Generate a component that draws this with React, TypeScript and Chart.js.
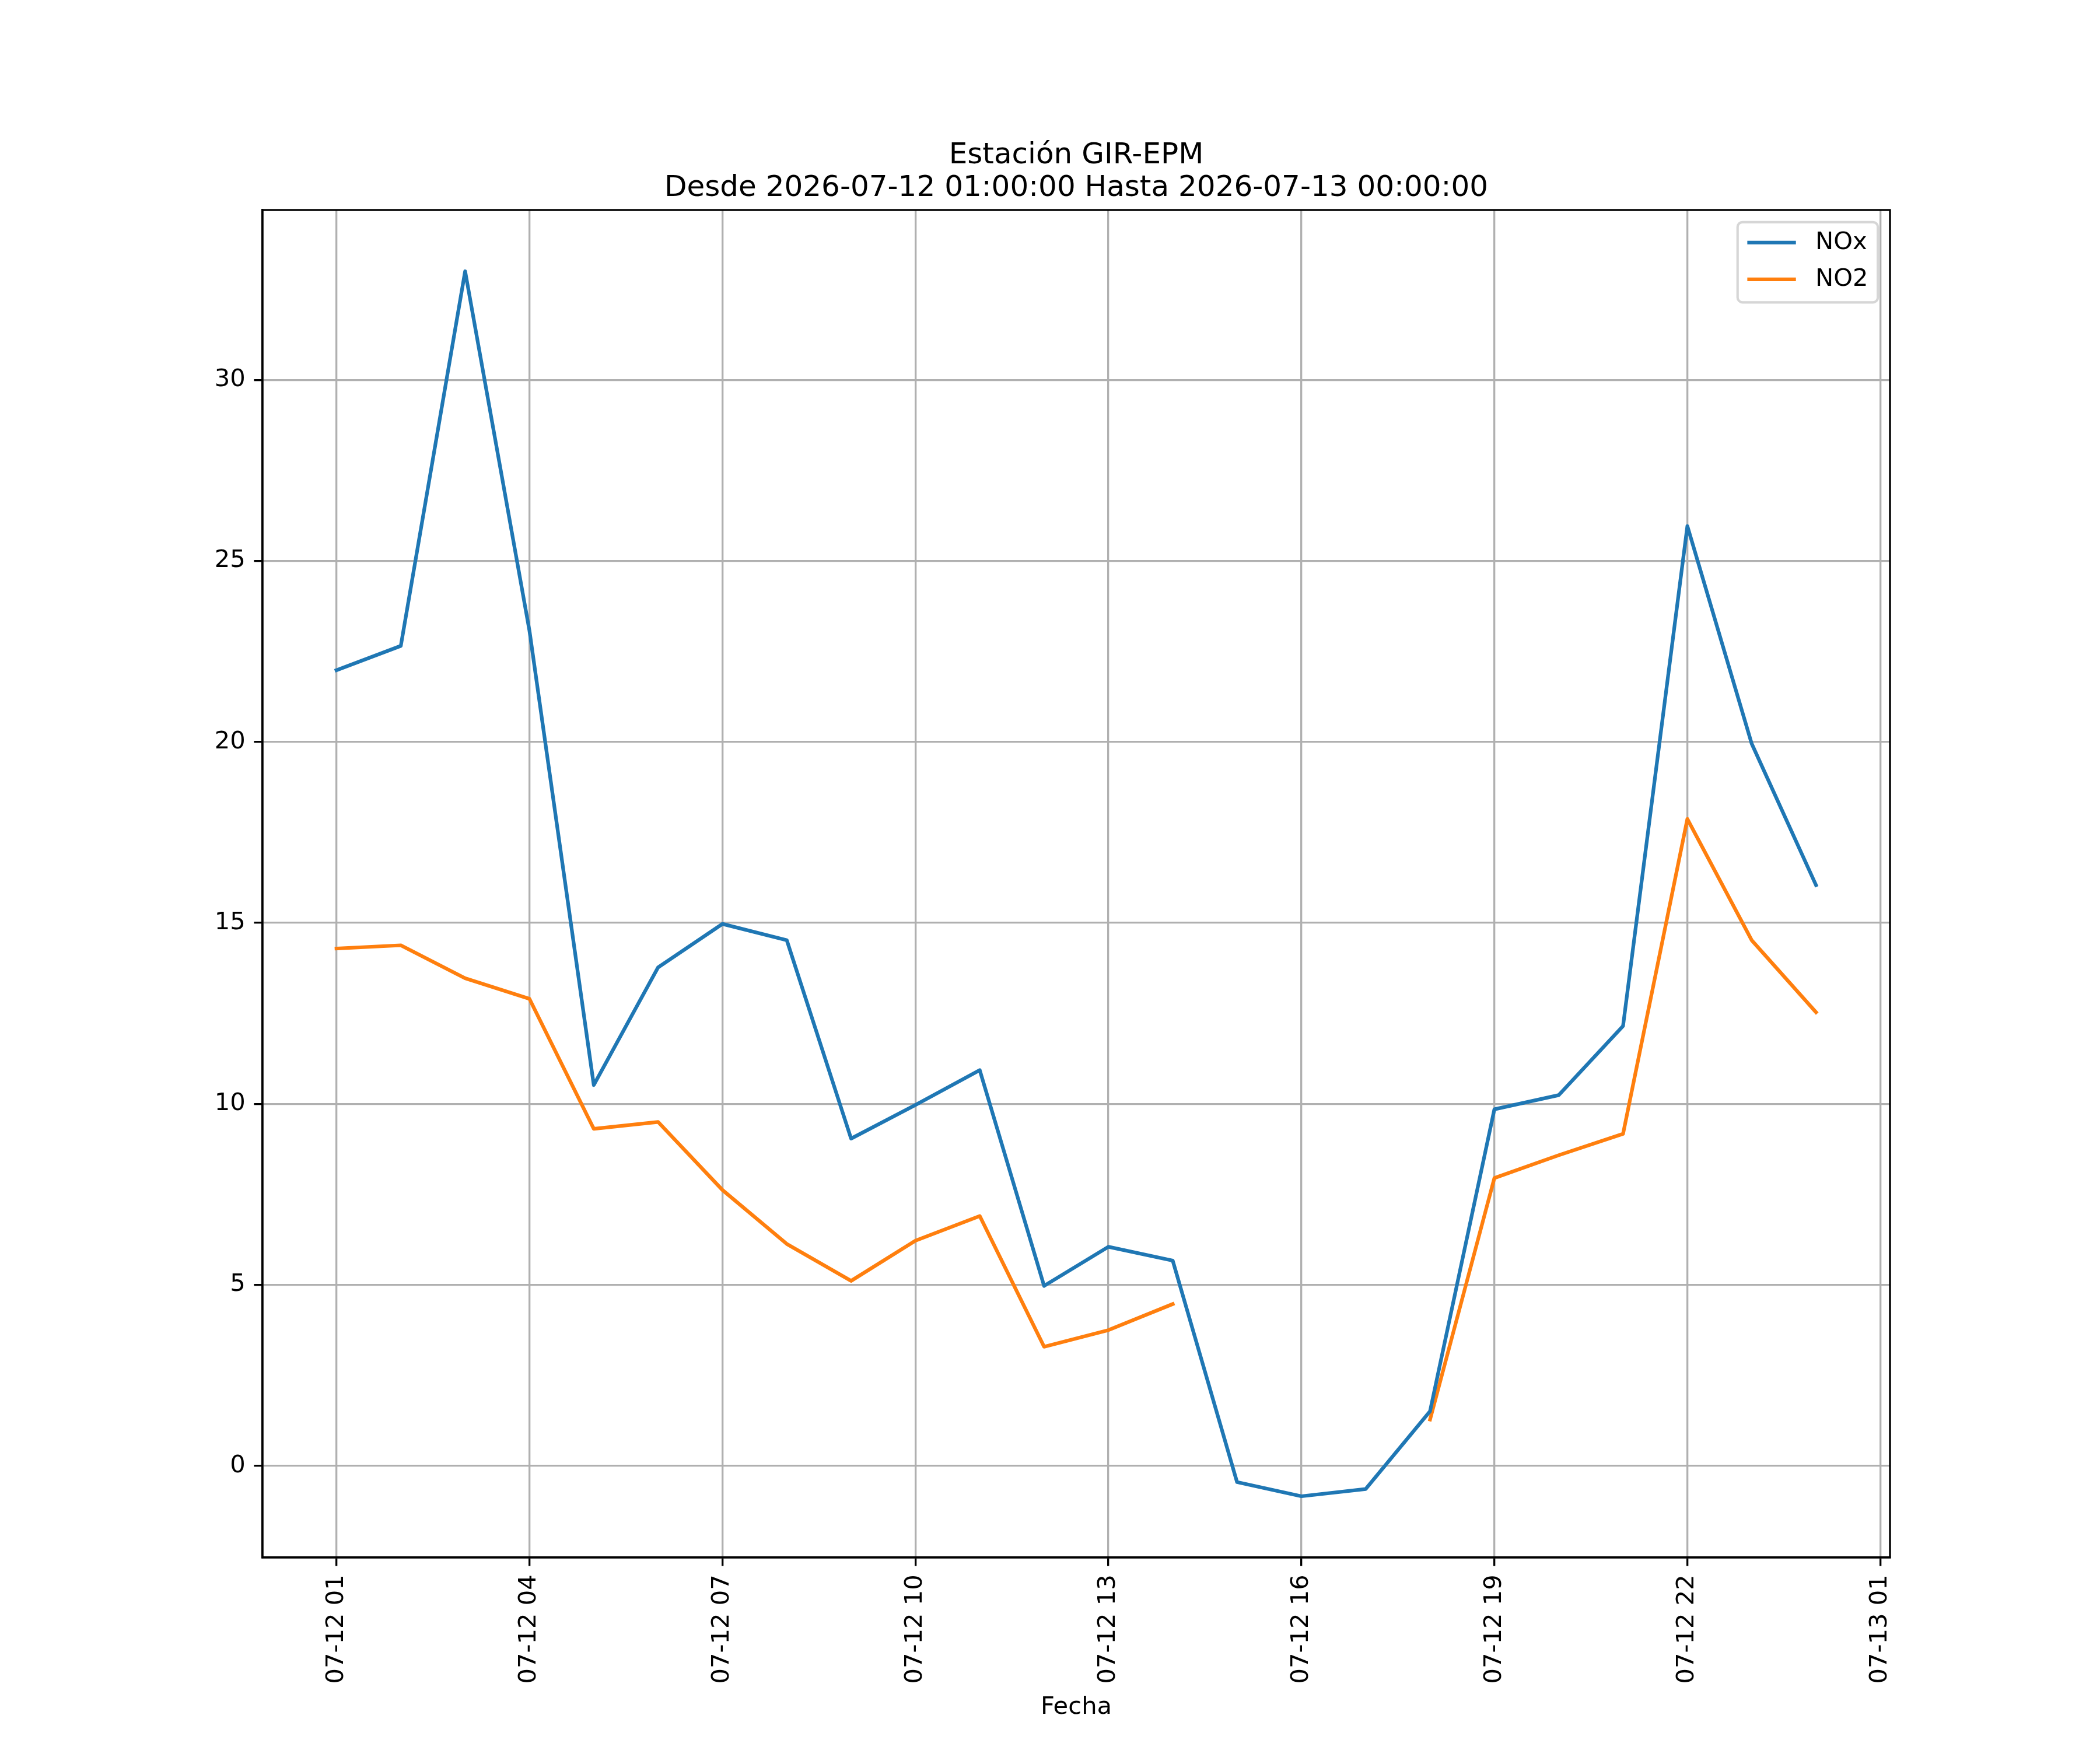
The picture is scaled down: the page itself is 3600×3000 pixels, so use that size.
import React, { useRef, useEffect } from "react";
import { Chart, registerables } from "chart.js";

Chart.register(...registerables);

const hours = [1, 2, 3, 4, 5, 6, 7, 8, 9, 10, 11, 12, 13, 14, 15, 16, 17, 18, 19, 20, 21, 22, 23, 24];
const noxValues = [
  21.98, 22.65, 33.0, 23.07, 10.52, 13.77, 14.97, 14.52, 9.04, 9.97, 10.93, 4.97,
  6.05, 5.67, -0.45, -0.84, -0.64, 1.51, 9.85, 10.24, 12.15, 25.96, 19.95, 16.04,
];
const no2Values = [
  14.29, 14.38, 13.47, 12.9, 9.31, 9.5, 7.62, 6.13, 5.11, 6.22, 6.9, 3.29,
  3.75, 4.47, null, null, null, 1.28, 7.95, 8.58, 9.17, 17.87, 14.52, 12.53,
];
const xTickValues = [1, 4, 7, 10, 13, 16, 19, 22, 25];
const xTickLabels = [
  "07-12 01", "07-12 04", "07-12 07", "07-12 10", "07-12 13",
  "07-12 16", "07-12 19", "07-12 22", "07-13 01",
];
const yTickValues = [0, 5, 10, 15, 20, 25, 30];
const titleLines = ["Estación GIR-EPM", "Desde 2026-07-12 01:00:00 Hasta 2026-07-13 00:00:00"];

const FONT = "'DejaVu Sans', sans-serif";
const PT = 300 / 72;

// matplotlib-style 5% margins
const allY = [...noxValues, ...no2Values].filter((v): v is number => v !== null);
const yMinData = Math.min(...allY);
const yMaxData = Math.max(...allY);
const yPad = (yMaxData - yMinData) * 0.05;
const xPad = (hours[hours.length - 1] - hours[0]) * 0.05;

const framePlugin = {
  id: "frame",
  afterDraw(chart: Chart) {
    const { ctx, chartArea } = chart;
    ctx.save();
    // spines
    ctx.strokeStyle = "#000";
    ctx.lineWidth = 0.8 * PT;
    ctx.strokeRect(chartArea.left, chartArea.top, chartArea.right - chartArea.left, chartArea.bottom - chartArea.top);

    // title
    const cx = (chartArea.left + chartArea.right) / 2;
    ctx.fillStyle = "#000";
    ctx.font = `${12 * PT}px ${FONT}`;
    ctx.textAlign = "center";
    ctx.textBaseline = "alphabetic";
    ctx.fillText(titleLines[0], cx, chartArea.top - 80);
    ctx.fillText(titleLines[1], cx, chartArea.top - 24);

    // legend (upper right)
    const fs = 10 * PT;
    ctx.font = `${fs}px ${FONT}`;
    const labels = chart.data.datasets.map((d) => d.label as string);
    const textW = Math.max(...labels.map((l) => ctx.measureText(l).width));
    const boxRight = chartArea.right - 0.5 * fs;
    const boxTop = chartArea.top + 0.5 * fs;
    const boxW = 0.4 * fs + 2.0 * fs + 0.8 * fs + textW + 0.4 * fs;
    const boxH = 0.4 * fs * 2 + labels.length * fs + (labels.length - 1) * 0.5 * fs;
    const boxLeft = boxRight - boxW;
    ctx.beginPath();
    ctx.roundRect(boxLeft, boxTop, boxW, boxH, 0.2 * fs);
    ctx.fillStyle = "rgba(255,255,255,0.8)";
    ctx.fill();
    ctx.strokeStyle = "#d6d6d6";
    ctx.lineWidth = 1 * PT;
    ctx.stroke();
    chart.data.datasets.forEach((d, i) => {
      const cy = boxTop + 35 + i * 63;
      ctx.strokeStyle = d.borderColor as string;
      ctx.lineWidth = 1.5 * PT;
      ctx.beginPath();
      ctx.moveTo(boxLeft + 0.4 * fs, cy);
      ctx.lineTo(boxLeft + 2.4 * fs, cy);
      ctx.stroke();
      ctx.fillStyle = "#000";
      ctx.textAlign = "left";
      ctx.textBaseline = "middle";
      ctx.fillText(labels[i], boxLeft + 3.2 * fs, cy);
    });
    ctx.restore();
  },
};

const App = () => {
  const canvasRef = useRef<HTMLCanvasElement | null>(null);
  const chartRef = useRef<Chart | null>(null);

  useEffect(() => {
    if (chartRef.current) {
      chartRef.current.destroy();
    }
    const ctx = canvasRef.current?.getContext("2d");
    if (!ctx) return;

    chartRef.current = new Chart(ctx, {
      type: "line",
      data: {
        datasets: [
          {
            label: "NOx",
            data: hours.map((h, i) => ({ x: h, y: noxValues[i] })),
            borderColor: "#1f77b4",
            backgroundColor: "#1f77b4",
            borderWidth: 1.5 * PT,
            pointRadius: 0,
            tension: 0,
            fill: false,
            borderJoinStyle: "round",
            borderCapStyle: "square",
          },
          {
            label: "NO2",
            data: hours.map((h, i) => ({ x: h, y: no2Values[i] as number })),
            borderColor: "#ff7f0e",
            backgroundColor: "#ff7f0e",
            borderWidth: 1.5 * PT,
            pointRadius: 0,
            tension: 0,
            fill: false,
            spanGaps: false,
            borderJoinStyle: "round",
            borderCapStyle: "square",
          },
        ],
      },
      options: {
        responsive: false,
        animation: false,
        devicePixelRatio: 1,
        layout: { padding: { top: 360, right: 360, left: 0, bottom: 0 } },
        plugins: {
          legend: { display: false },
          title: { display: false },
          tooltip: { enabled: false },
        },
        scales: {
          x: {
            type: "linear",
            min: hours[0] - xPad,
            max: hours[hours.length - 1] + xPad,
            afterBuildTicks: (scale: any) => {
              scale.ticks = xTickValues.map((v) => ({ value: v }));
            },
            afterFit: (scale: any) => {
              scale.height = 330;
            },
            grid: {
              color: "#b0b0b0",
              lineWidth: 0.8 * PT,
              tickColor: "#000",
              tickLength: 3.5 * PT,
              tickWidth: 0.8 * PT,
            },
            border: { color: "#000", width: 0.8 * PT },
            ticks: {
              autoSkip: false,
              minRotation: 90,
              maxRotation: 90,
              padding: 3.5 * PT,
              color: "#000",
              font: { family: FONT, size: 10 * PT },
              callback: (value: any) => {
                const idx = xTickValues.indexOf(Number(value));
                return idx >= 0 ? xTickLabels[idx] : "";
              },
            },
            title: {
              display: true,
              text: "Fecha",
              color: "#000",
              font: { family: FONT, size: 10 * PT },
              padding: { top: 0, bottom: 48 },
            },
          },
          y: {
            type: "linear",
            min: yMinData - yPad,
            max: yMaxData + yPad,
            afterBuildTicks: (scale: any) => {
              scale.ticks = yTickValues.map((v) => ({ value: v }));
            },
            afterFit: (scale: any) => {
              scale.width = 450;
            },
            grid: {
              color: "#b0b0b0",
              lineWidth: 0.8 * PT,
              tickColor: "#000",
              tickLength: 3.5 * PT,
              tickWidth: 0.8 * PT,
            },
            border: { color: "#000", width: 0.8 * PT },
            ticks: {
              padding: 3.5 * PT,
              color: "#000",
              font: { family: FONT, size: 10 * PT },
              callback: (value: any) => String(value),
            },
          },
        },
      },
      plugins: [framePlugin],
    });

    return () => {
      if (chartRef.current) {
        chartRef.current.destroy();
        chartRef.current = null;
      }
    };
  }, []);

  return (
    <div style={{ position: "absolute", left: 0, top: 0, width: 3600, height: 3000, background: "#fff" }}>
      <canvas ref={canvasRef} width={3600} height={3000} style={{ width: 3600, height: 3000 }} />
    </div>
  );
};

export default App;
